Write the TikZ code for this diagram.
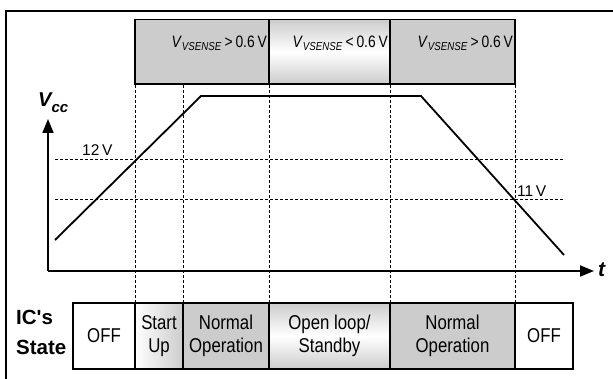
\documentclass[tikz,border=0pt]{standalone}
\usepackage{fontspec}
\setmainfont{Liberation Sans}
\newfontfamily\narrowsf[FakeStretch=0.84]{Liberation Sans}
\usetikzlibrary{calc,arrows.meta}

\begin{document}
\begin{tikzpicture}[x=1pt,y=-1pt,
  box/.style={draw,line width=1.5pt,rectangle,inner sep=0pt,outer sep=0pt,
    anchor=north west,align=center,font=\narrowsf\fontsize{20}{23}\selectfont},
  grayfill/.style={fill=gray!40},
  whitefill/.style={fill=white},
  hshade/.style={left color=white,right color=gray!40},
  vshade/.style={top color=gray!40,bottom color=gray!40,middle color=white},
  guide/.style={line width=1pt,dash pattern=on 3pt off 2pt},
  axis/.style={line width=2pt,-{Triangle[length=14pt,width=11pt]}}]
  \useasboundingbox (0,0) rectangle (613,379);

  %% Frame round the figure
  \draw[line width=2pt] (6,379) -- (6,11) -- (613,11);

  %% Boxes for the sense voltage
  \foreach \nm/\xl/\xr/\sty/\cmp in {sense1/135/269/grayfill/>,
      sense2/269/390/vshade/<, sense3/390/515/grayfill/>}
  {
    \node[box,\sty,minimum width=\xr-\xl,minimum height=64.5] (\nm) at (\xl,19.5) {};
    \node[anchor=base east,inner sep=0pt,font=\narrowsf\fontsize{16.5}{17}\selectfont] (\nm-lbl)
      at ($(\nm.north east)+(-2,28)$)
      {\textit{V}\textsubscript{\textit{VSENSE}}\,\cmp\,0.6\,V};
  }

  %% Boxes for the IC's state
  \foreach \nm/\xl/\xr/\sty/\txt in {off1/73/135/whitefill/OFF,
      startup/135/183/hshade/{Start\\Up}, normal1/183/269/grayfill/{Normal\\Operation},
      standby/269/390/vshade/{Open loop/\\Standby}, normal2/390/515/grayfill/{Normal\\Operation},
      off2/515/573/whitefill/OFF}
  {
    \node[box,\sty,minimum width=\xr-\xl,minimum height=66] (\nm) at (\xl,303) {\txt};
  }
  \node[anchor=north west,align=left,inner sep=0pt,font=\bfseries\fontsize{20.5}{30}\selectfont]
    (icstate) at (16,310) {IC\textquotesingle s\\State};

  %% Time marks
  \foreach \nm in {startup,normal1,standby,normal2,off2}
  {
    \draw[guide] (\nm.north west) -- (\nm.north west |- sense1.south);
  }

  %% Axes
  \coordinate (O) at (48,271);
  \coordinate (ytop) at (48,119);
  \coordinate (xend) at (594,271);
  \draw[axis] (O) -- (ytop);
  \draw[axis] (O) -- (xend);
  \node[anchor=base west,inner sep=0pt,font=\bfseries\itshape\fontsize{20}{20}\selectfont]
    (vcc) at (38,107) {V\raisebox{-6pt}{\fontsize{15}{15}\selectfont cc}};
  \node[anchor=base west,inner sep=0pt,font=\bfseries\itshape\fontsize{21}{21}\selectfont]
    (tlbl) at (598,277) {t};

  %% Threshold levels
  \draw[guide] (55,160) -- (565,160);
  \draw[guide] (55,200) -- (565,200);
  \node[anchor=base west,inner sep=0pt,font=\fontsize{15.5}{16}\selectfont] (lvl12) at (82,156) {12\,V};
  \node[anchor=base west,inner sep=0pt,font=\fontsize{15.5}{16}\selectfont] (lvl11) at (517,197) {11\,V};

  %% Vcc curve
  \draw[line width=1.8pt] (55,240) -- (201,96) -- (421,96) -- (564,255);

\end{tikzpicture}
\end{document}
